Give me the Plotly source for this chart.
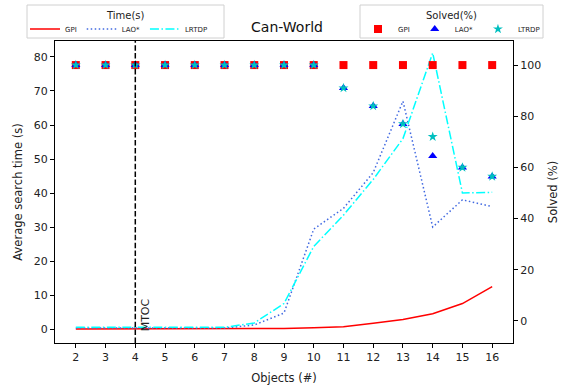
import plotly.graph_objects as go

objects = [2, 3, 4, 5, 6, 7, 8, 9, 10, 11, 12, 13, 14, 15, 16]

time_gpi = [0.0, 0.0, 0.0, 0.0, 0.0, 0.05, 0.1, 0.2, 0.4, 0.7, 1.7, 2.8, 4.5, 7.5, 12.5]
time_lao = [0.3, 0.3, 0.3, 0.3, 0.3, 0.3, 1.2, 4.7, 29.4, 35.5, 46.0, 67.0, 30.0, 38.0, 36.0]
time_lrtdp = [0.5, 0.5, 0.5, 0.5, 0.5, 0.5, 1.8, 7.5, 24.3, 33.5, 44.0, 56.0, 81.2, 40.0, 40.2]

solved_gpi = [100] * 15
solved_lao = [100, 100, 100, 100, 100, 100, 100, 100, 100, 91.0, 84.0, 77.0, 64.5, 60.0, 56.5]
solved_lrtdp = [100, 100, 100, 100, 100, 100, 100, 100, 100, 91.0, 84.0, 77.0, 72.0, 60.0, 56.5]

mtoc_x = 4

FONT = "DejaVu Sans"

# plot-area pixel geometry (for placing legend boxes in paper coords)
L, R, T, B = 55, 513, 41, 343
def px(xp):
    return (xp - L) / (R - L)
def py(yp):
    return (B - yp) / (B - T)

fig = go.Figure()

fig.add_trace(go.Scatter(x=objects, y=time_gpi, mode="lines", name="GPI",
                         line=dict(color="#ff0000", width=1.5), legend="legend", yaxis="y"))
fig.add_trace(go.Scatter(x=objects, y=time_lao, mode="lines", name="LAO*",
                         line=dict(color="royalblue", width=1.5, dash="1.5px,2.5px"),
                         legend="legend", yaxis="y"))
fig.add_trace(go.Scatter(x=objects, y=time_lrtdp, mode="lines", name="LRTDP",
                         line=dict(color="#00ffff", width=1.5, dash="9px,2.5px,1.5px,2.5px"),
                         legend="legend", yaxis="y"))

fig.add_trace(go.Scatter(x=objects, y=solved_gpi, mode="markers", name="GPI",
                         marker=dict(symbol="square", color="#ff0000", size=8),
                         legend="legend2", yaxis="y2"))
fig.add_trace(go.Scatter(x=objects, y=solved_lao, mode="markers", name="LAO*",
                         marker=dict(symbol="triangle-up", color="#0000ff", size=8),
                         legend="legend2", yaxis="y2"))
fig.add_trace(go.Scatter(x=objects, y=solved_lrtdp, mode="markers", name="LTRDP",
                         marker=dict(symbol="star", color="#00bfbf", size=7.5),
                         legend="legend2", yaxis="y2"))

fig.add_shape(type="line", x0=mtoc_x, x1=mtoc_x, xref="x", y0=0, y1=1, yref="paper",
              line=dict(color="black", width=1.5, dash="5.5px,2.4px"))
fig.add_annotation(x=mtoc_x, y=0, xref="x", yref="y", text="MTOC", textangle=-90,
                   showarrow=False, xanchor="left", yanchor="bottom", xshift=2, yshift=-4,
                   font=dict(family=FONT, size=11, color="#222"))

# legend frames and titles
for x0, x1, title in [(27, 224, "Time(s)"), (360, 543, "Solved(%)")]:
    fig.add_shape(type="rect", xref="paper", yref="paper", x0=px(x0), x1=px(x1),
                  y0=py(38), y1=py(5), line=dict(color="#d0d0d0", width=1),
                  fillcolor="rgba(255,255,255,0.8)", layer="below")
    fig.add_annotation(xref="paper", yref="paper", x=px((x0 + x1) / 2), y=py(15),
                       text=title, showarrow=False, xanchor="center", yanchor="middle",
                       font=dict(family=FONT, size=10, color="#222"))

axis_common = dict(showline=True, linecolor="black", linewidth=1, ticks="outside",
                   ticklen=4, tickcolor="black", showgrid=False, zeroline=False,
                   automargin=False,
                   tickfont=dict(family=FONT, size=11, color="#222"))

legend_common = dict(orientation="h", bgcolor="rgba(0,0,0,0)", borderwidth=0,
                     font=dict(family=FONT, size=7, color="#222"),
                     yanchor="middle", y=py(29), itemwidth=30, tracegroupgap=0)

fig.update_layout(
    width=565, height=385,
    margin=dict(l=L, r=565 - R, t=T, b=385 - B, autoexpand=False),
    plot_bgcolor="white", paper_bgcolor="white",
    title=dict(text="Can-World", x=287 / 565, xanchor="center", y=1 - 27 / 385,
               yanchor="middle", font=dict(family=FONT, size=14, color="#111")),
    xaxis=dict(range=[1.3, 16.7], tickmode="array", tickvals=objects, mirror=True,
               title=dict(text="Objects (#)", font=dict(family=FONT, size=11.5, color="#222"),
                          standoff=10),
               **axis_common),
    yaxis=dict(range=[-4.1, 84.7], tickmode="array", tickvals=[0, 10, 20, 30, 40, 50, 60, 70, 80],
               title=dict(text="Average search time (s)",
                          font=dict(family=FONT, size=11.5, color="#222"), standoff=8),
               **axis_common),
    yaxis2=dict(range=[-8.6, 109.4], overlaying="y", side="right", anchor="x",
                tickmode="array", tickvals=[0, 20, 40, 60, 80, 100],
                title=dict(text="Solved (%)", font=dict(family=FONT, size=11.5, color="#222"),
                           standoff=8),
                **axis_common),
    legend=dict(x=px(25), xanchor="left", **legend_common),
    legend2=dict(x=px(545), xanchor="right", **legend_common),
    showlegend=True,
)

fig.write_html("out.html")
